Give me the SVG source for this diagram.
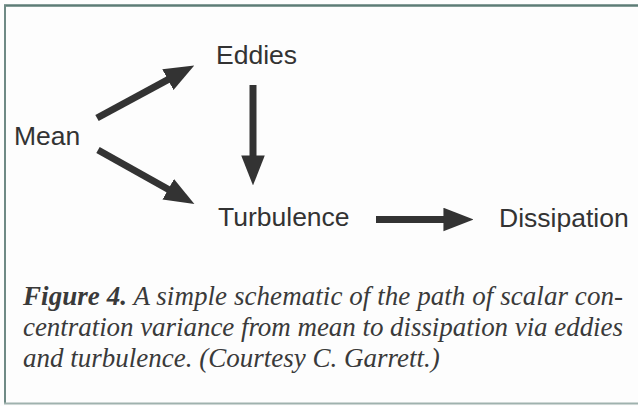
<svg xmlns="http://www.w3.org/2000/svg" width="638" height="406" viewBox="0 0 638 406">
  <defs>
    <style>
      .node { font-family: "Liberation Sans", Arial, sans-serif; font-size: 26.5px; fill: #333; }
      .cap { font-family: "Liberation Serif", "Times New Roman", serif; font-style: italic; font-size: 27px; fill: #3a3a3a; }
      .conn line { stroke: #333; stroke-width: 7; marker-end: url(#head); }
    </style>
    <marker id="head" markerUnits="userSpaceOnUse" markerWidth="30" markerHeight="24" refX="8" refY="11" orient="auto" viewBox="0 0 28 22">
      <path d="M0,0 L28,11 L0,22 Z" fill="#333"/>
    </marker>
  </defs>
  <rect x="0" y="0" width="638" height="406" fill="#fdfdfd"/>
  <g id="frame">
    <line x1="4" y1="5.5" x2="638" y2="5.5" stroke="#5d7c76" stroke-width="2.5"/>
    <line x1="5" y1="5" x2="5" y2="404" stroke="#6f8a85" stroke-width="2"/>
    <line x1="4" y1="403.5" x2="638" y2="403.5" stroke="#9fb2ae" stroke-width="2"/>
  </g>
  <g id="connectors" class="conn">
    <line x1="97" y1="118" x2="175.4" y2="75.6"/>
    <line x1="98" y1="150" x2="175.7" y2="193.5"/>
    <line x1="253" y1="85" x2="253" y2="164"/>
    <line x1="376" y1="219.5" x2="452" y2="219.5"/>
  </g>
  <g id="mean"><text class="node" x="14" y="145">Mean</text></g>
  <g id="eddies"><text class="node" x="216" y="63.5">Eddies</text></g>
  <g id="turbulence"><text class="node" x="218" y="225.5">Turbulence</text></g>
  <g id="dissipation"><text class="node" x="499" y="226.5">Dissipation</text></g>
  <g id="caption">
    <text class="cap" x="23" y="305" textLength="600" lengthAdjust="spacing"><tspan font-weight="bold">Figure 4.</tspan> A simple schematic of the path of scalar con-</text>
    <text class="cap" x="23" y="336" textLength="600" lengthAdjust="spacing">centration variance from mean to dissipation via eddies</text>
    <text class="cap" x="23" y="367">and turbulence. (Courtesy C. Garrett.)</text>
  </g>
</svg>
